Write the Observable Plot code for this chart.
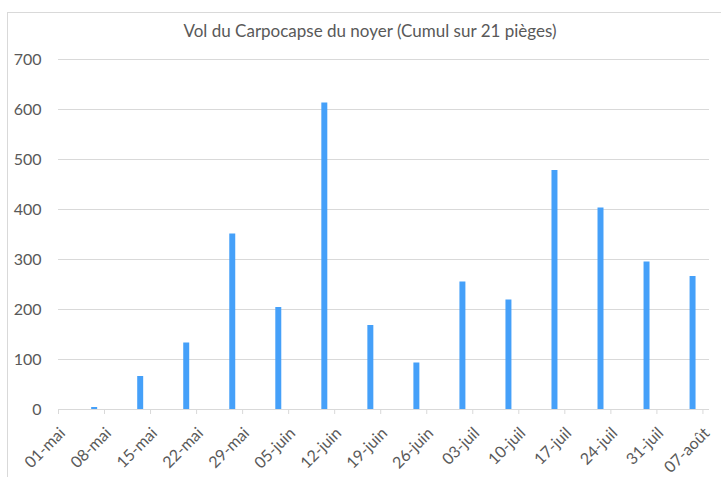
<!DOCTYPE html>
<html>
<head>
<meta charset="utf-8">
<script src="https://cdn.jsdelivr.net/npm/d3@7"></script>
<script src="https://cdn.jsdelivr.net/npm/@observablehq/plot@0.6"></script>
<style>
  html, body { margin: 0; padding: 0; background: #fff; }
  #wrap { position: relative; width: 721px; height: 477px; overflow: hidden; font-family: Lato, "Noto Sans", sans-serif; }
  #frame { position: absolute; left: 7px; top: 12px; width: 730px; height: 480px; border-left: 1px solid #d9d9d9; border-top: 1px solid #d9d9d9; }
  #title { position: absolute; left: 0; top: 20px; width: 740px; text-align: center; font-size: 17px; color: #595959; }
  #chart { position: absolute; left: 0; top: 47px; }
</style>
</head>
<body>
<div id="wrap">
  <div id="frame"></div>
  <div id="title">Vol du Carpocapse du noyer (Cumul sur 21 pièges)</div>
  <div id="chart"></div>
</div>
<script>
const titleText = "Vol du Carpocapse du noyer (Cumul sur 21 pièges)";
const dates = ["2019-05-06","2019-05-13","2019-05-20","2019-05-27","2019-06-03","2019-06-10","2019-06-17","2019-06-24","2019-07-01","2019-07-08","2019-07-15","2019-07-22","2019-07-29","2019-08-05"];
const values = [4, 66, 133, 351, 204, 613, 168, 93, 255, 219, 478, 403, 295, 266];
const tickDates = ["2019-05-01","2019-05-08","2019-05-15","2019-05-22","2019-05-29","2019-06-05","2019-06-12","2019-06-19","2019-06-26","2019-07-03","2019-07-10","2019-07-17","2019-07-24","2019-07-31","2019-08-07"];
const tickLabels = ["01-mai","08-mai","15-mai","22-mai","29-mai","05-juin","12-juin","19-juin","26-juin","03-juil","10-juil","17-juil","24-juil","31-juil","07-août"];
const yTicks = [0, 100, 200, 300, 400, 500, 600, 700];
const xDomain = ["2019-05-01", "2019-08-08"];

document.getElementById("title").textContent = titleText;
const data = dates.map((d, i) => ({date: new Date(d), value: values[i]}));
const ticks = tickDates.map((d, i) => ({date: new Date(d), label: tickLabels[i]}));

const chart = Plot.plot({
  width: 721,
  height: 430,
  marginLeft: 58,
  marginRight: 12,
  marginTop: 12,
  marginBottom: 68,
  style: {fontFamily: "Lato, 'Noto Sans', sans-serif", fontSize: "16px", color: "#595959", background: "transparent"},
  x: {type: "utc", domain: xDomain.map(d => new Date(d)), label: null},
  y: {domain: [0, 700], ticks: yTicks, label: null},
  marks: [
    Plot.gridY(yTicks.filter(t => t > 0), {stroke: "#d9d9d9", strokeOpacity: 1}),
    Plot.axisY({ticks: yTicks, tickSize: 0, tickPadding: 17, fontSize: 16, fill: "#595959", label: null}),
    Plot.ruleY([0], {stroke: "#d9d9d9"}),
    Plot.axisX({ticks: ticks.map(t => t.date), tickFormat: () => "", tickSize: 5, stroke: "#d9d9d9", label: null}),
    Plot.text(ticks, {x: "date", text: "label", frameAnchor: "bottom", rotate: -45, textAnchor: "end", lineAnchor: "middle", dx: 4, dy: 21, fontSize: 16, fill: "#595959"}),
    Plot.rectY(data, {x: "date", interval: d3.utcDay, y: "value", fill: "#45a0f9", insetLeft: 0.3, insetRight: 0.3})
  ]
});
document.getElementById("chart").appendChild(chart);
</script>
</body>
</html>
